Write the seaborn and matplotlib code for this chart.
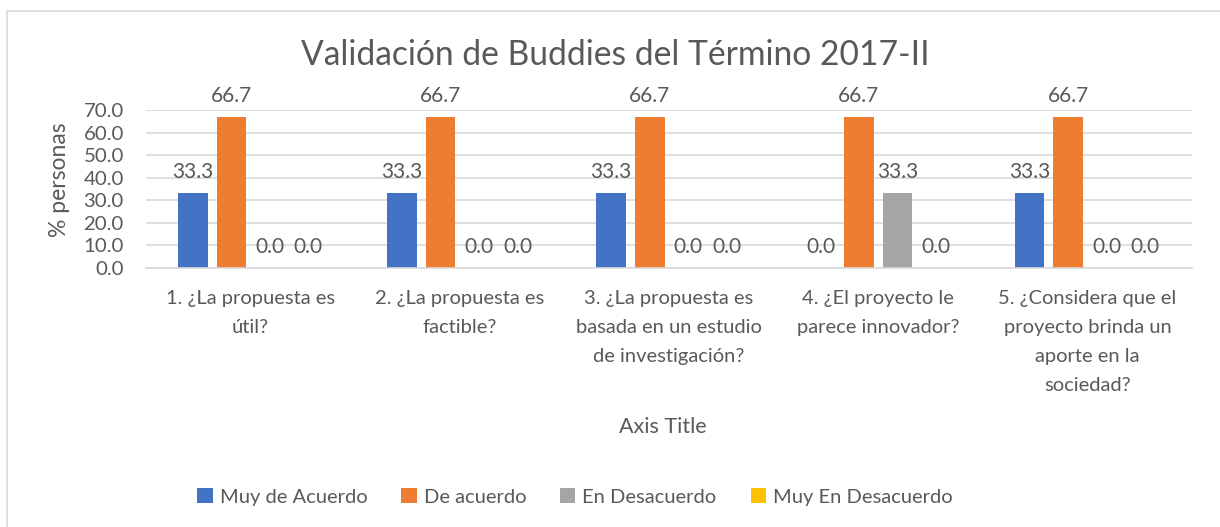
import matplotlib
matplotlib.use("Agg")
import matplotlib.pyplot as plt
import matplotlib.patches as patches
import seaborn as sns
import pandas as pd

# Data
preguntas = [
    "1. ¿La propuesta es\nútil?",
    "2. ¿La propuesta es\nfactible?",
    "3. ¿La propuesta es\nbasada en un estudio\nde investigación?",
    "4. ¿El proyecto le\nparece innovador?",
    "5. ¿Considera que el\nproyecto brinda un\naporte en la\nsociedad?",
]
respuestas = ["Muy de Acuerdo", "De acuerdo", "En Desacuerdo", "Muy En Desacuerdo"]
muy_de_acuerdo = [33.3, 33.3, 33.3, 0.0, 33.3]
de_acuerdo = [66.7, 66.7, 66.7, 66.7, 66.7]
en_desacuerdo = [0.0, 0.0, 0.0, 33.3, 0.0]
muy_en_desacuerdo = [0.0, 0.0, 0.0, 0.0, 0.0]
colores = ["#4472C4", "#ED7D31", "#A5A5A5", "#FFC000"]

series = [muy_de_acuerdo, de_acuerdo, en_desacuerdo, muy_en_desacuerdo]
rows = []
for resp, vals in zip(respuestas, series):
    for preg, v in zip(preguntas, vals):
        rows.append({"pregunta": preg, "respuesta": resp, "valor": v})
df = pd.DataFrame(rows)

# -----------------------------------
# STYLE
# -----------------------------------
sns.set_style("white")
plt.rcParams["font.family"] = ["Lato", "DejaVu Sans"]
txt = "#595959"
grid = "#D9D9D9"

fig = plt.figure(figsize=(12.2, 5.27), dpi=100)
ax = fig.add_axes([146 / 1220, 1 - 268 / 527, (1192 - 146) / 1220, (268 - 110) / 527])

sns.barplot(
    data=df, x="pregunta", y="valor", hue="respuesta",
    order=preguntas, hue_order=respuestas, palette=colores,
    width=0.736, gap=0.23, saturation=1, linewidth=0, errorbar=None, ax=ax
)

for cont in ax.containers:
    ax.bar_label(cont, fmt="%.1f", padding=8, fontsize=15, color=txt)

ax.set_ylim(0, 70)
ax.set_xlim(-0.5, 4.5)
ax.set_yticks(range(0, 71, 10))
ax.set_yticklabels([f"{v:.1f}" for v in range(0, 71, 10)])
ax.yaxis.grid(True, color=grid, linewidth=1.2)
ax.set_axisbelow(True)
for s in ["left", "right", "top"]:
    ax.spines[s].set_visible(False)
ax.spines["bottom"].set_color(grid)
ax.spines["bottom"].set_linewidth(1.2)
ax.tick_params(axis="both", length=0, labelcolor=txt)
ax.tick_params(axis="y", pad=16, labelsize=14.7)
ax.tick_params(axis="x", pad=16, labelsize=14.5)
for lbl in ax.get_xticklabels():
    lbl.set_linespacing(1.85)
ax.set_xlabel("")
ax.set_ylabel("")

# titles
fig.text(615 / 1220, 1 - 55 / 527, "Validación de Buddies del Término 2017-II",
         ha="center", va="center", fontsize=24.2, color=txt)
fig.text(59 / 1220, 1 - 180 / 527, "% personas", rotation=90,
         ha="center", va="center", fontsize=16.5, color=txt)
fig.text(663 / 1220, 1 - 427 / 527, "Axis Title",
         ha="center", va="center", fontsize=15.5, color=txt)

# legend
ax.get_legend().remove()
handles = [patches.Patch(facecolor=c, edgecolor="none") for c in colores]
fig.legend(handles, respuestas, loc="center", bbox_to_anchor=(575 / 1220, 1 - 497 / 527),
           ncol=4, frameon=False, fontsize=14.5, labelcolor=txt,
           handlelength=0.75, handleheight=0.75, handletextpad=0.35, columnspacing=1.7)

# chart border
fig.patches.append(patches.Rectangle((7 / 1220, -0.1), 1.2, (527 - 11) / 527 + 0.1,
                                     transform=fig.transFigure, fill=False,
                                     edgecolor=grid, linewidth=1.2))

fig.savefig("out.png", dpi=100)
